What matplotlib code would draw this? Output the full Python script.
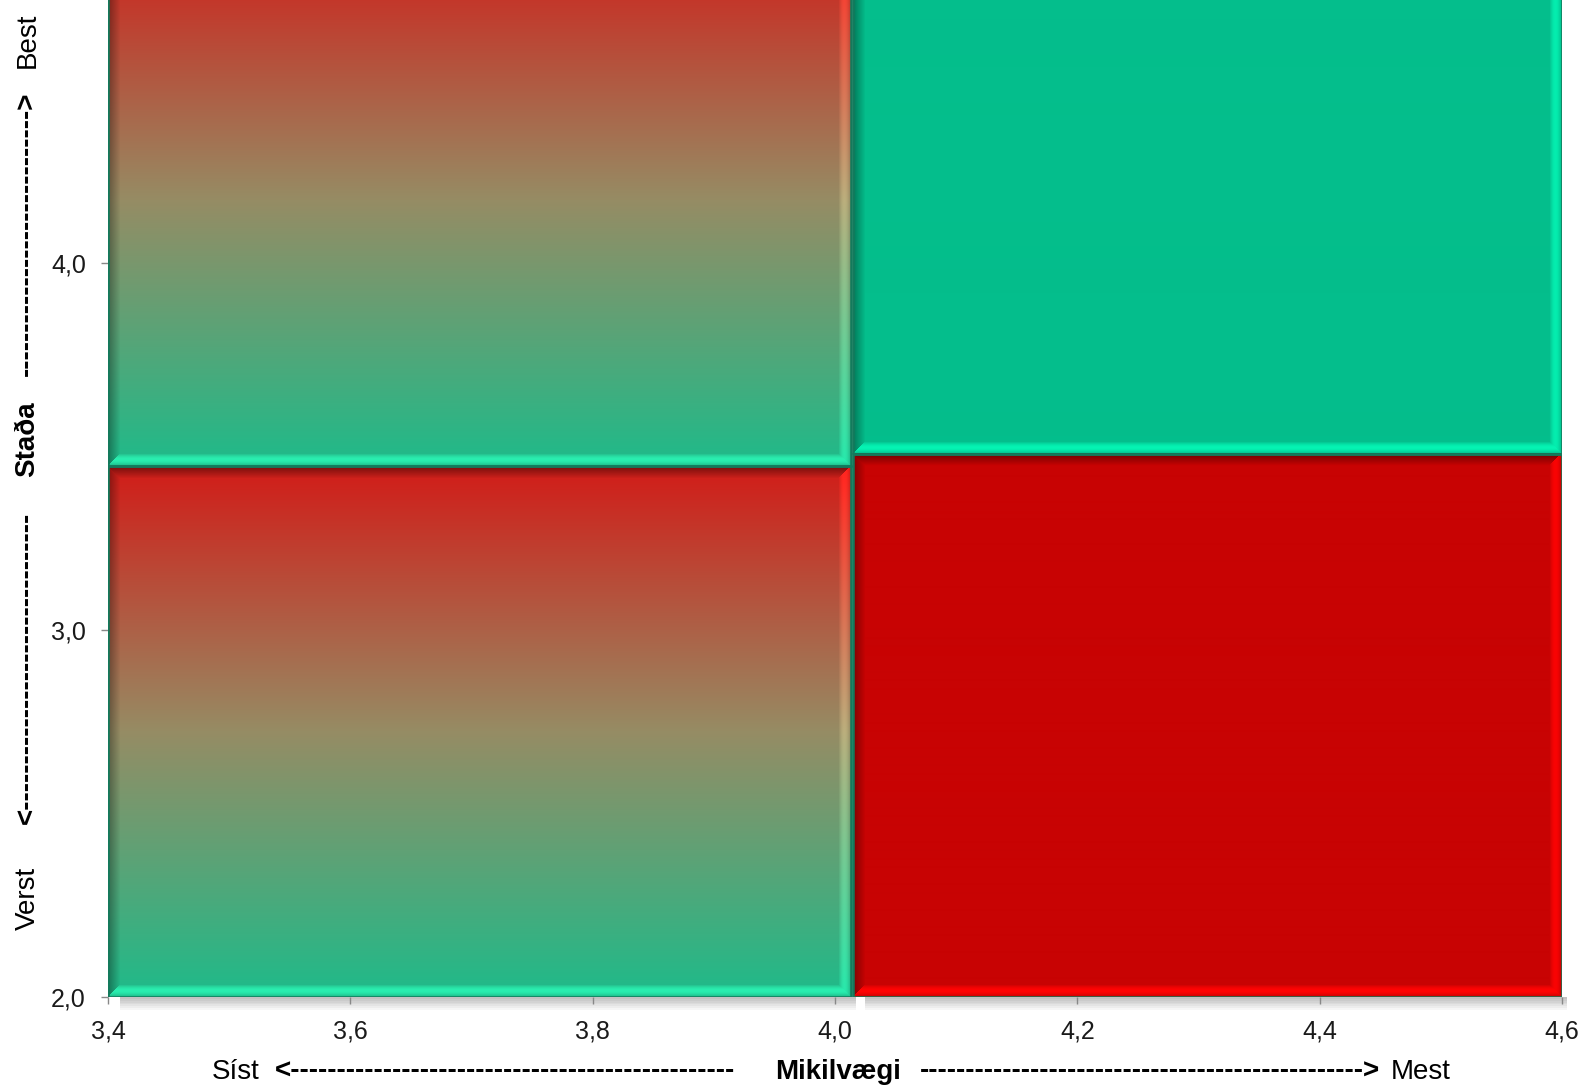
import numpy as np
import matplotlib
matplotlib.use("Agg")
import matplotlib.pyplot as plt
from matplotlib.patches import Rectangle

plt.rcParams['font.family'] = ['Liberation Sans', 'DejaVu Sans']

# Quadrant boxes
left_x = [3.4, 4.013]
right_x = [4.015, 4.6]
left_split = 3.447
right_split = 3.48
y_bottom = 2.0
y_top_left = 4.894
y_top_right = 4.93

# colours (RGB 0-255)
grad_red = [210, 28, 24]
grad_mid = [150, 140, 100]
grad_green = [30, 187, 138]
solid_green = [4, 190, 140]
solid_red = [200, 3, 3]
outline = "#137a5c"

x_ticks = [3.4, 3.6, 3.8, 4.0, 4.2, 4.4, 4.6]
x_labels = ["3,4", "3,6", "3,8", "4,0", "4,2", "4,4", "4,6"]
y_ticks = [2.0, 3.0, 4.0]
y_labels = ["2,0", "3,0", "4,0"]

PX_X = 1212  # pixels per data unit (x)
PX_Y = 367   # pixels per data unit (y)


def box_image(x0, x1, y0, y1, stops, bevel=12):
    nx = int((x1 - x0) * PX_X)
    ny = int((y1 - y0) * PX_Y)
    stops = np.array(stops, float) / 255
    t = np.linspace(0, 1, ny)
    if len(stops) == 1:
        col = np.repeat(stops, ny, axis=0)
    else:
        pos = [0, 0.5, 1]
        col = np.stack([np.interp(t, pos, stops[:, c]) for c in range(3)], axis=1)
    img = np.repeat(col[:, None, :], nx, axis=1)
    xi = np.arange(nx)[None, :]
    yi = np.arange(ny)[:, None]
    dl = np.broadcast_to(xi, (ny, nx)).astype(float)
    dr = np.broadcast_to(nx - 1 - xi, (ny, nx)).astype(float)
    dt = np.broadcast_to(yi, (ny, nx)).astype(float)
    db = np.broadcast_to(ny - 1 - yi, (ny, nx)).astype(float)
    dmin = np.minimum(np.minimum(dl, dr), np.minimum(dt, db))
    fac = np.ones((ny, nx))
    w = bevel
    k = np.clip(1 - dmin / w, 0, 1)
    fac = np.where((dmin == dl) & (dl < w), 1 - 0.35 * k, fac)
    fac = np.where((dmin == dt) & (dt < w), 1 - 0.45 * k, fac)
    fac = np.where((dmin == dr) & (dr < w), 1 + 0.25 * np.sin(np.pi * k), fac)
    fac = np.where((dmin == db) & (db < w), 1 + 0.28 * np.sin(np.pi * k), fac)
    img = np.clip(img * fac[:, :, None], 0, 1)
    return img


fig = plt.figure(figsize=(15.94, 10.92), dpi=100)
ax = fig.add_axes([108 / 1594, 1 - 997 / 1092, (1562 - 108) / 1594, 997 / 1092])

boxes = [
    (left_x[0], left_x[1], left_split, y_top_left, [grad_red, grad_mid, grad_green]),
    (left_x[0], left_x[1], y_bottom, left_split, [grad_red, grad_mid, grad_green]),
    (right_x[0], right_x[1], right_split, y_top_right, [solid_green]),
    (right_x[0], right_x[1], y_bottom, right_split, [solid_red]),
]

# soft shadow under bottom boxes
for i in range(7):
    d = 0.005 * (i + 1)
    for x0, x1 in (left_x, right_x):
        r = Rectangle((x0 + 0.01, y_bottom - d), x1 - x0 - 0.006, d,
                      facecolor="black", alpha=0.035, lw=0, clip_on=False, zorder=1)
        ax.add_patch(r)

for x0, x1, y0, y1, stops in boxes:
    img = box_image(x0, x1, y0, y1, stops)
    ax.imshow(img, extent=[x0, x1, y0, y1], origin="upper", aspect="auto",
              interpolation="bilinear", zorder=2)
    ax.add_patch(Rectangle((x0, y0), x1 - x0, y1 - y0, fill=False,
                           edgecolor=outline, lw=1.8, zorder=3))

ax.set_xlim(3.4, 4.6)
ax.set_ylim(2.0, 4.717)
ax.set_xticks(x_ticks)
ax.set_xticklabels(x_labels)
ax.set_yticks(y_ticks)
ax.set_yticklabels(y_labels)
ax.tick_params(axis="both", labelsize=18, color="#888888", length=5, width=1,
               labelcolor="#1a1a1a", pad=11)
for s in ax.spines.values():
    s.set_visible(False)

# axis titles built from pieces (mixed weights)
fs = 20
yx = 1 - 1072 / 1092
fig.text(236 / 1594, yx, "Síst", ha="center", va="center", fontsize=fs)
fig.text(505 / 1594, yx, "<" + "-" * 48, ha="center", va="center", fontsize=fs, fontweight="bold")
fig.text(838 / 1594, yx, "Mikilvægi", ha="center", va="center", fontsize=fs, fontweight="bold")
fig.text(1150 / 1594, yx, "-" * 48 + ">", ha="center", va="center", fontsize=fs, fontweight="bold")
fig.text(1421 / 1594, yx, "Mest", ha="center", va="center", fontsize=fs)

xx = 27.5 / 1594
fig.text(xx, 1 - 898 / 1092, "Verst", ha="center", va="center", fontsize=fs, rotation=90)
fig.text(xx, 1 - 668 / 1092, "<" + "-" * 32, ha="center", va="center", fontsize=fs, fontweight="bold", rotation=90)
fig.text(xx, 1 - 439 / 1092, "Staða", ha="center", va="center", fontsize=fs, fontweight="bold", rotation=90)
fig.text(xx, 1 - 234 / 1092, "-" * 29 + ">", ha="center", va="center", fontsize=fs, fontweight="bold", rotation=90)
fig.text(xx, 1 - 40 / 1092, "Best", ha="center", va="center", fontsize=fs, rotation=90)

fig.savefig("out.png", dpi=100)
